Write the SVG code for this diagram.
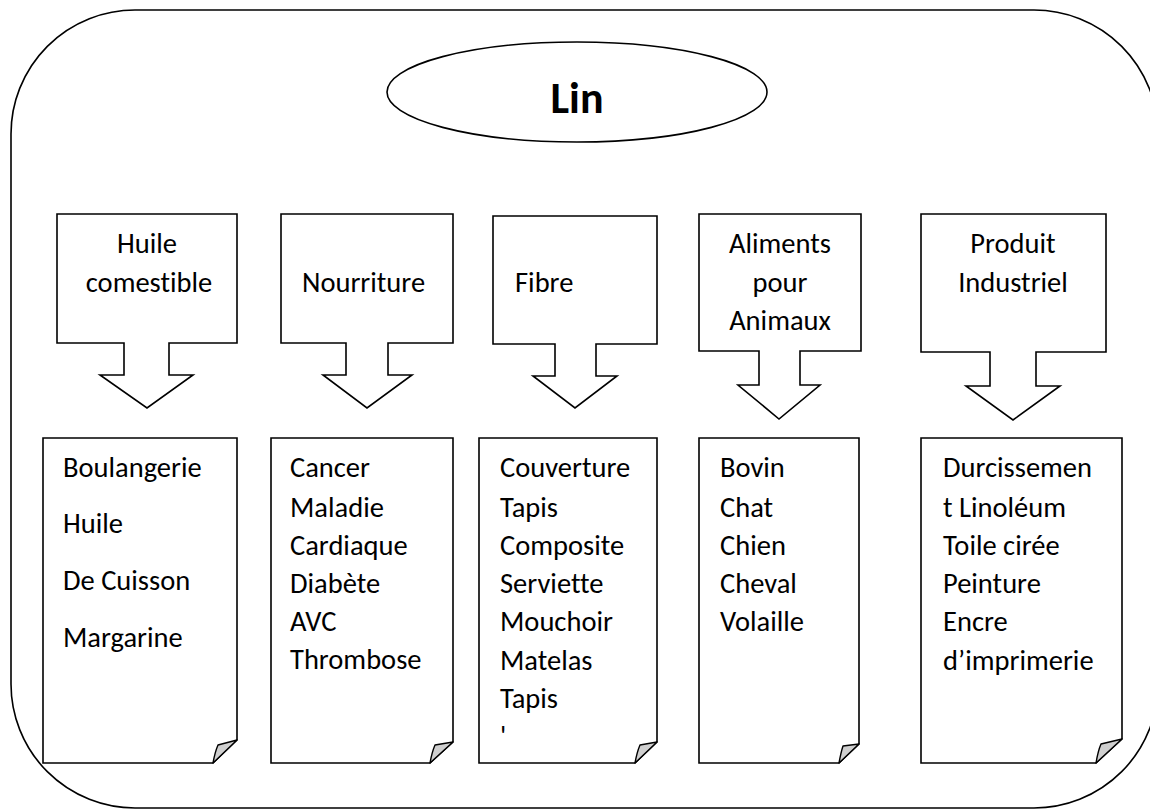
<svg xmlns="http://www.w3.org/2000/svg" width="1150" height="810" viewBox="0 0 1150 810">
<style>
.ln{fill:#fff;stroke:#000;stroke-width:1.6;stroke-linejoin:miter}
.flap{fill:#cfcfcf;stroke:#000;stroke-width:1.4;stroke-linejoin:round}
text{font-family:Carlito,Lato,"Noto Sans",sans-serif;font-size:28.5px;fill:#000;font-variant-ligatures:none}
.c{text-anchor:middle}
.title{font-weight:bold;font-size:44px}
</style>
<rect id="frame" x="11" y="10" width="1147" height="798" rx="124" ry="124" fill="#fff" stroke="#000" stroke-width="1.6"/>
<g id="lin">
<ellipse cx="577" cy="92" rx="190" ry="50" class="ln"/>
<text x="577" y="113" class="c title">Lin</text>
</g>
<g id="connectors">
<g id="c1">
<path class="ln" d="M57,214 H237 V343 H169 V375 H193 L147,408 L100,375 H124 V343 H57 Z"/>
<text x="147" y="253" class="c">Huile</text>
<text x="149" y="292" class="c">comestible</text>
</g>
<g id="c2">
<path class="ln" d="M281,214 H453 V343 H388 V375 H412 L367,408 L323,375 H346 V343 H281 Z"/>
<text x="302" y="292">Nourriture</text>
</g>
<g id="c3">
<path class="ln" d="M493,216 H657 V344 H596 V376 H617 L575,408 L533,376 H555 V344 H493 Z"/>
<text x="515" y="292">Fibre</text>
</g>
<g id="c4">
<path class="ln" d="M699,214 H861 V351 H800 V385 H820 L779,419 L738,385 H759 V351 H699 Z"/>
<text x="780" y="253" class="c">Aliments</text>
<text x="780" y="292" class="c">pour</text>
<text x="780" y="330" class="c">Animaux</text>
</g>
<g id="c5">
<path class="ln" d="M921,214 H1106 V352 H1036 V386 H1060 L1013,420 L966,386 H990 V352 H921 Z"/>
<text x="1013" y="253" class="c">Produit</text>
<text x="1013" y="292" class="c">Industriel</text>
</g>
</g>
<g id="doc1">
<path class="ln" d="M43,438 H237 V740 L213,763 H43 Z"/>
<path class="flap" d="M213,763 Q215,752 218,745 L237,740 Z"/>
<text x="63" y="477">Boulangerie</text>
<text x="63" y="533">Huile</text>
<text x="63" y="590">De Cuisson</text>
<text x="63" y="647">Margarine</text>
</g>
<g id="doc2">
<path class="ln" d="M271,438 H453 V742 L430,763 H271 Z"/>
<path class="flap" d="M430,763 Q432,752 435,745 L453,742 Z"/>
<text x="290" y="477">Cancer</text>
<text x="290" y="517">Maladie</text>
<text x="290" y="555">Cardiaque</text>
<text x="290" y="593">Diabète</text>
<text x="290" y="631">AVC</text>
<text x="290" y="669">Thrombose</text>
</g>
<g id="doc3">
<path class="ln" d="M479,438 H657 V742 L635,763 H479 Z"/>
<path class="flap" d="M635,763 Q637,752 640,745 L657,742 Z"/>
<text x="500" y="477">Couverture</text>
<text x="500" y="517">Tapis</text>
<text x="500" y="555">Composite</text>
<text x="500" y="593">Serviette</text>
<text x="500" y="631">Mouchoir</text>
<text x="500" y="670">Matelas</text>
<text x="500" y="708">Tapis</text>
<text x="500" y="746">'</text>
</g>
<g id="doc4">
<path class="ln" d="M699,438 H859 V744 L839,763 H699 Z"/>
<path class="flap" d="M839,763 Q841,752 843,746 L859,744 Z"/>
<text x="720" y="477">Bovin</text>
<text x="720" y="517">Chat</text>
<text x="720" y="555">Chien</text>
<text x="720" y="593">Cheval</text>
<text x="720" y="631">Volaille</text>
</g>
<g id="doc5">
<path class="ln" d="M921,438 H1122 V739 L1096,763 H921 Z"/>
<path class="flap" d="M1096,763 Q1098,751 1101,744 L1122,739 Z"/>
<text x="943" y="477">Durcissemen</text>
<text x="943" y="517">t Linoléum</text>
<text x="943" y="555">Toile cirée</text>
<text x="943" y="593">Peinture</text>
<text x="943" y="631">Encre</text>
<text x="943" y="670">d’imprimerie</text>
</g>
</svg>
